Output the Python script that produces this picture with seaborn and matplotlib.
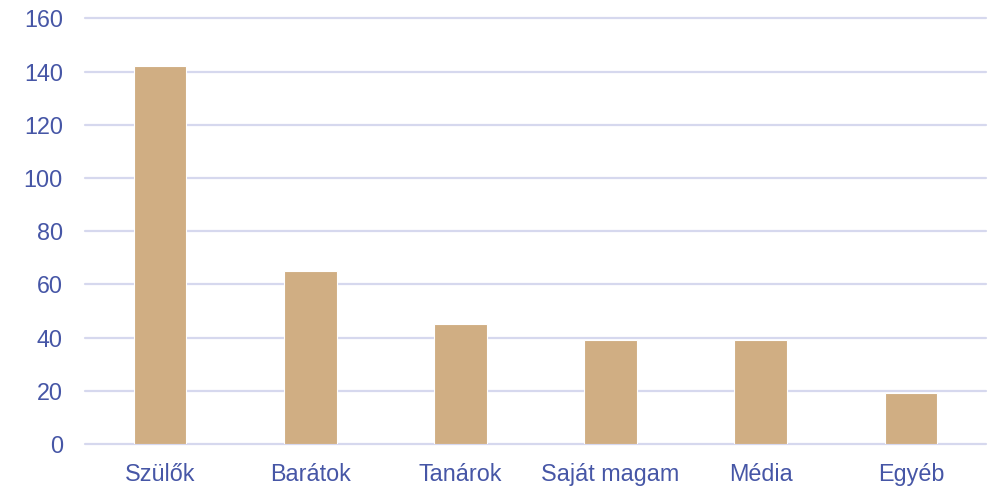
import matplotlib
matplotlib.use("Agg")
import matplotlib.pyplot as plt
import seaborn as sns
import pandas as pd

categories = ['Szülők', 'Barátok', 'Tanárok', 'Saját magam', 'Média', 'Egyéb']
values = [142, 65, 45, 39, 39, 19]
y_ticks = [0, 20, 40, 60, 80, 100, 120, 140, 160]

sns.set_theme(style="white")
plt.rcParams['font.family'] = ['Liberation Sans', 'DejaVu Sans']

text_color = '#4656A6'
bar_color = '#D0AE83'
grid_color = '#D6D8EE'

df = pd.DataFrame({'Category': categories, 'Value': values})

fig = plt.figure(figsize=(9.94, 4.86), dpi=100)
ax = fig.add_axes([85 / 994, 1 - 444 / 486, (986 - 85) / 994, (444 - 18.5) / 486])

sns.barplot(data=df, x='Category', y='Value', color=bar_color, width=0.35,
            saturation=1, edgecolor='white', linewidth=0.8, ax=ax, zorder=3)

ax.set_ylim(0, 160)
ax.set_yticks(y_ticks)
ax.set_xlim(-0.5, len(categories) - 0.5)
ax.yaxis.grid(True, color=grid_color, linewidth=1.6, zorder=0)
for gl in ax.get_ygridlines():
    gl.set_clip_on(False)
ax.set_axisbelow(True)
for s in ax.spines.values():
    s.set_visible(False)
ax.set_xlabel('')
ax.set_ylabel('')
ax.tick_params(axis='both', length=0, labelsize=16.8, labelcolor=text_color)
ax.tick_params(axis='y', pad=16)
ax.tick_params(axis='x', pad=13.5)

fig.savefig('out.png', dpi=100)
